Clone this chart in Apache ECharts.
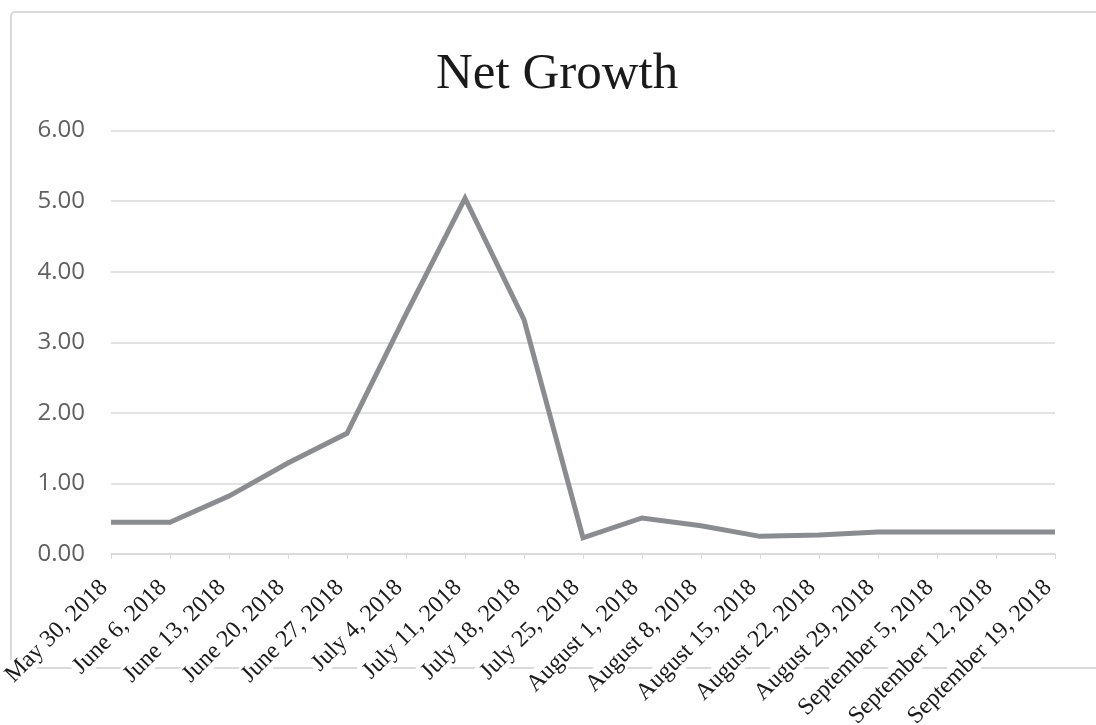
<!DOCTYPE html>
<html>
<head>
<meta charset="utf-8">
<script src="https://cdn.jsdelivr.net/npm/echarts@6/dist/echarts.min.js"></script>
<style>html,body{margin:0;padding:0;background:#fff;}#c{width:1096px;height:725px;}</style>
</head>
<body>
<div id="c"></div>
<script>
const categories = ["May 30, 2018","June 6, 2018","June 13, 2018","June 20, 2018","June 27, 2018","July 4, 2018","July 11, 2018","July 18, 2018","July 25, 2018","August 1, 2018","August 8, 2018","August 15, 2018","August 22, 2018","August 29, 2018","September 5, 2018","September 12, 2018","September 19, 2018"];
const netGrowth = [0.45,0.45,0.82,1.29,1.71,3.40,5.04,3.32,0.23,0.51,0.40,0.25,0.27,0.31,0.31,0.31,0.31];
const yTicks = {min:0, max:6, interval:1};
const titleText = "Net Growth";

const chart = echarts.init(document.getElementById('c'), null, {renderer:'canvas'});
chart.setOption({
  animation:false,
  backgroundColor:'#ffffff',
  title:{text:titleText, left:431, top:44,
    textStyle:{fontFamily:'Liberation Serif', fontSize:51, fontWeight:'normal', color:'#1a1a1a'}},
  graphic:[{type:'rect', z:-10, shape:{x:11,y:12,width:1100,height:656,r:4},
    style:{fill:'none', stroke:'#d9d9d9', lineWidth:2}}],
  grid:{left:111, right:41, top:130.5, bottom:171, containLabel:false, outerBoundsMode:'none'},
  xAxis:{type:'category', data:categories, boundaryGap:false,
    axisLine:{show:true, lineStyle:{color:'#d9d9d9', width:1.5}},
    axisTick:{show:true, length:5, lineStyle:{color:'#d9d9d9'}},
    axisLabel:{rotate:45, margin:23, interval:0, padding:[0,8,0,0],
      formatter: v => '{a|' + v + '}',
      rich:{a:{fontFamily:'Liberation Serif', fontSize:24, color:'#1a1a1a', backgroundColor:'#ffffff', padding:[0,2]}}},
    splitLine:{show:false}},
  yAxis:{type:'value', min:yTicks.min, max:yTicks.max, interval:yTicks.interval,
    axisLine:{show:false}, axisTick:{show:false},
    axisLabel:{margin:26, formatter: v => v.toFixed(2), fontFamily:'Open Sans', fontSize:24, color:'#606060'},
    splitLine:{lineStyle:{color:'#d9d9d9', width:1.5}}},
  series:[{type:'line', data:netGrowth, symbol:'none',
    lineStyle:{color:'#8b8c90', width:5, join:'miter'}}]
});
</script>
</body>
</html>
